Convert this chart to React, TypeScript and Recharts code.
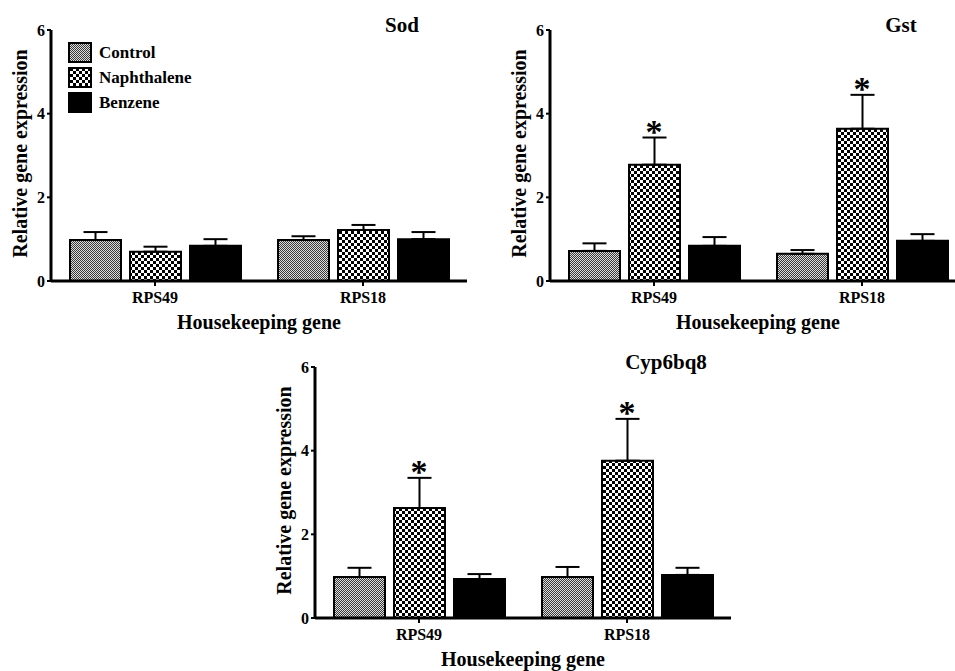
import React from 'react';
import { ComposedChart, Bar, XAxis, YAxis, ErrorBar, Scatter, Legend } from 'recharts';

const categories = ['RPS49', 'RPS18'];
const yTicks = [0, 2, 4, 6];
const seriesNames = ['Control', 'Naphthalene', 'Benzene'];
const xTitle = 'Housekeeping gene';
const yTitle = 'Relative gene expression';

// Sod
const sodControl = [0.98, 0.98];
const sodControlErr = [0.19, 0.09];
const sodNaph = [0.7, 1.22];
const sodNaphErr = [0.12, 0.12];
const sodBenz = [0.84, 1.0];
const sodBenzErr = [0.16, 0.17];
const sodStar = [false, false];

// Gst
const gstControl = [0.72, 0.65];
const gstControlErr = [0.18, 0.09];
const gstNaph = [2.78, 3.64];
const gstNaphErr = [0.65, 0.81];
const gstBenz = [0.84, 0.96];
const gstBenzErr = [0.21, 0.16];
const gstStar = [true, true];

// Cyp6bq8
const cypControl = [0.98, 0.98];
const cypControlErr = [0.22, 0.24];
const cypNaph = [2.63, 3.76];
const cypNaphErr = [0.72, 1.0];
const cypBenz = [0.93, 1.03];
const cypBenzErr = [0.12, 0.17];
const cypStar = [true, true];

const FONT = '"Liberation Serif", "Times New Roman", serif';

function buildRows(c: number[], ce: number[], n: number[], ne: number[], b: number[], be: number[], star: boolean[]) {
  return categories.map((name, i) => ({
    name,
    control: c[i],
    controlErr: [0, ce[i]],
    naph: n[i],
    naphErr: [0, ne[i]],
    benz: b[i],
    benzErr: [0, be[i]],
    star: star[i] ? n[i] + ne[i] : null,
  }));
}

const sodRows = buildRows(sodControl, sodControlErr, sodNaph, sodNaphErr, sodBenz, sodBenzErr, sodStar);
const gstRows = buildRows(gstControl, gstControlErr, gstNaph, gstNaphErr, gstBenz, gstBenzErr, gstStar);
const cypRows = buildRows(cypControl, cypControlErr, cypNaph, cypNaphErr, cypBenz, cypBenzErr, cypStar);

const StarShape = (props: any) => {
  const { cx, cy, payload } = props;
  if (!payload || payload.star == null || !isFinite(cy)) return <g />;
  return (
    <text x={cx} y={cy + 5} textAnchor="middle" fontSize={34} fontWeight={700} fontFamily={FONT} fill="#000">
      *
    </text>
  );
};

const XLabel = (props: any) => {
  const vb = props.viewBox || {};
  return (
    <text x={vb.x + vb.width / 2} y={vb.y + 41} textAnchor="middle" dominantBaseline="central" fontSize={20} fontWeight={700} fontFamily={FONT} fill="#000">
      {xTitle}
    </text>
  );
};

const YLabel = (props: any) => {
  const vb = props.viewBox || {};
  const x = 20;
  const y = vb.y + vb.height / 2 - 2;
  return (
    <text x={x} y={y} transform={`rotate(-90 ${x} ${y})`} textAnchor="middle" dominantBaseline="central" fontSize={20} fontWeight={700} fontFamily={FONT} fill="#000">
      {yTitle}
    </text>
  );
};

const LegendContent = () => {
  const fills = ['url(#lg-ctrl)', 'url(#lg-naph)', '#000'];
  return (
    <div style={{ position: 'relative', width: 140, height: 72 }}>
      <svg width={140} height={72} style={{ position: 'absolute', left: 0, top: 0 }}>
        <defs>
          <pattern id="lg-ctrl" width={2} height={2} patternUnits="userSpaceOnUse">
            <rect width={2} height={2} fill="#dcdcdc" />
            <rect width={1} height={1} fill="#3a3a3a" />
            <rect x={1} y={1} width={1} height={1} fill="#3a3a3a" />
          </pattern>
          <pattern id="lg-naph" width={6} height={6} patternUnits="userSpaceOnUse">
            <rect width={6} height={6} fill="#fff" />
            <rect width={3} height={3} fill="#000" />
            <rect x={3} y={3} width={3} height={3} fill="#000" />
          </pattern>
        </defs>
        {seriesNames.map((s, i) => (
          <g key={s}>
            <rect x={2} y={2 + i * 25} width={22} height={19} fill={fills[i]} stroke="#000" strokeWidth={2} />
            <text x={32} y={11.5 + i * 25} dominantBaseline="central" fontSize={17} fontWeight={700} fontFamily={FONT} fill="#000">
              {s}
            </text>
          </g>
        ))}
      </svg>
    </div>
  );
};

type PanelProps = { id: string; title: string; rows: any[]; legend?: boolean; left: number; top: number };

const Panel = ({ id, title, rows, legend, left, top }: PanelProps) => {
  const ctrl = `ctrl-${id}`;
  const naph = `naph-${id}`;
  return (
    <div style={{ position: 'absolute', left, top, width: 480, height: 345 }}>
      <ComposedChart width={480} height={345} data={rows} margin={{ top: 30, right: 13, left: 0, bottom: 9 }} barSize={51} barGap={9}>
        <defs>
          <pattern id={ctrl} width={2} height={2} patternUnits="userSpaceOnUse">
            <rect width={2} height={2} fill="#dcdcdc" />
            <rect width={1} height={1} fill="#3a3a3a" />
            <rect x={1} y={1} width={1} height={1} fill="#3a3a3a" />
          </pattern>
          <pattern id={naph} width={6} height={6} patternUnits="userSpaceOnUse">
            <rect width={6} height={6} fill="#fff" />
            <rect width={3} height={3} fill="#000" />
            <rect x={3} y={3} width={3} height={3} fill="#000" />
          </pattern>
        </defs>
        <XAxis
          dataKey="name"
          type="category"
          height={55}
          axisLine={{ stroke: '#000', strokeWidth: 3 }}
          tickLine={{ stroke: '#000', strokeWidth: 2 }}
          tickSize={5}
          tickMargin={6}
          tick={{ fill: '#000', fontSize: 16, fontWeight: 700, fontFamily: FONT }}
          label={{ content: XLabel }}
        />
        <YAxis
          width={51}
          domain={[0, 6]}
          ticks={yTicks}
          allowDataOverflow
          axisLine={{ stroke: '#000', strokeWidth: 3 }}
          tickLine={{ stroke: '#000', strokeWidth: 2 }}
          tickSize={4}
          tickMargin={2}
          tick={{ fill: '#000', fontSize: 16, fontWeight: 700, fontFamily: FONT }}
          label={{ content: YLabel }}
        />
        {legend && (
          <Legend
            layout="horizontal"
            verticalAlign="middle"
            align="center"
            content={LegendContent}
            wrapperStyle={{ position: 'absolute', left: 67, top: 41, width: 140, height: 72 }}
          />
        )}
        <Bar dataKey="control" fill={`url(#${ctrl})`} stroke="#000" strokeWidth={2} isAnimationActive={false}>
          <ErrorBar dataKey="controlErr" width={12} stroke="#000" strokeWidth={2} direction="y" isAnimationActive={false} />
        </Bar>
        <Bar dataKey="naph" fill={`url(#${naph})`} stroke="#000" strokeWidth={2} isAnimationActive={false}>
          <ErrorBar dataKey="naphErr" width={12} stroke="#000" strokeWidth={2} direction="y" isAnimationActive={false} />
        </Bar>
        <Bar dataKey="benz" fill="#000" stroke="#000" strokeWidth={2} isAnimationActive={false}>
          <ErrorBar dataKey="benzErr" width={12} stroke="#000" strokeWidth={2} direction="y" isAnimationActive={false} />
        </Bar>
        <Scatter dataKey="star" shape={StarShape} isAnimationActive={false} legendType="none" />
      </ComposedChart>
      <div
        style={{
          position: 'absolute',
          left: 402 - 100,
          top: 25 - 13,
          width: 200,
          lineHeight: '26px',
          textAlign: 'center',
          fontSize: 21,
          fontWeight: 700,
          fontFamily: FONT,
          color: '#000',
        }}
      >
        {title}
      </div>
    </div>
  );
};

export default function App() {
  return (
    <div style={{ position: 'absolute', left: 0, top: 0, width: 955, height: 671, overflow: 'hidden', background: '#fff' }}>
      <Panel id="sod" title="Sod" rows={sodRows} legend left={0} top={0} />
      <Panel id="gst" title="Gst" rows={gstRows} left={499} top={0} />
      <Panel id="cyp" title="Cyp6bq8" rows={cypRows} left={264} top={337} />
    </div>
  );
}
